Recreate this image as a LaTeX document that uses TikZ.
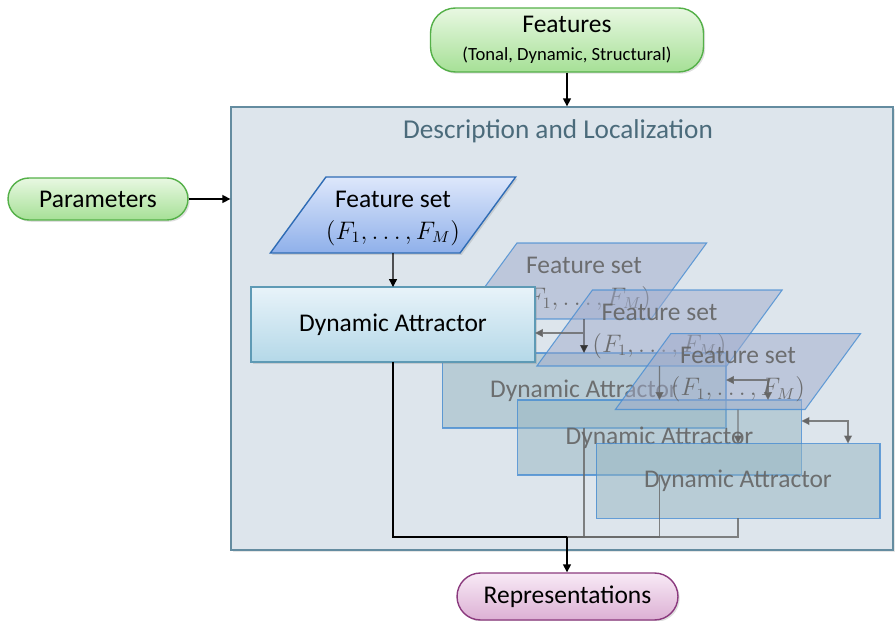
\documentclass[tikz,border=0pt]{standalone}
\usepackage{fontspec}
\setmainfont{Carlito}
\usetikzlibrary{arrows.meta, positioning, shapes.geometric, shadows}

\definecolor{BoxFill}{RGB}{221,229,236}
\definecolor{BoxEdge}{RGB}{100,140,160}
\definecolor{TitleGray}{RGB}{75,107,123}
\definecolor{PillTop}{RGB}{232,248,226}
\definecolor{PillBottom}{RGB}{166,224,150}
\definecolor{PillEdge}{RGB}{84,176,72}
\definecolor{FSTop}{RGB}{221,231,251}
\definecolor{FSBottom}{RGB}{143,176,234}
\definecolor{FSEdge}{RGB}{47,108,181}
\definecolor{DATop}{RGB}{232,243,249}
\definecolor{DABottom}{RGB}{180,216,232}
\definecolor{DAEdge}{RGB}{94,154,181}
\definecolor{ReprTop}{RGB}{248,234,246}
\definecolor{ReprBottom}{RGB}{220,176,212}
\definecolor{ReprEdge}{RGB}{139,58,126}
\definecolor{GhostFS}{RGB}{159,171,204}
\definecolor{GhostDA}{RGB}{149,181,194}
\definecolor{GhostEdge}{RGB}{70,140,210}
\definecolor{GhostText}{RGB}{100,100,100}

\begin{document}
\begin{tikzpicture}[x=0.02cm, y=-0.02cm]
        \tikzstyle{pill} = [rectangle, rounded corners=0.42cm, draw=PillEdge, line width=0.8pt, top color=PillTop, bottom color=PillBottom, font=\fontsize{14.5}{17}\selectfont, drop shadow={opacity=0.25, shadow xshift=1pt, shadow yshift=-1pt}]
        \tikzstyle{featset} = [trapezium, trapezium left angle=40.8, trapezium right angle=139.2, trapezium stretches body, minimum width=4.86cm, minimum height=1.52cm, inner sep=0pt, outer sep=0pt, text depth=0pt, align=center, font=\fontsize{14.5}{18}\selectfont]
        \tikzstyle{attractor} = [rectangle, minimum width=5.68cm, minimum height=1.5cm, outer sep=0pt, font=\fontsize{14.5}{17}\selectfont]
        \tikzstyle{mainfs} = [featset, draw=FSEdge, top color=FSTop, bottom color=FSBottom, line width=0.8pt, drop shadow={opacity=0.25, shadow xshift=1pt, shadow yshift=-1pt}]
        \tikzstyle{mainda} = [attractor, draw=DAEdge, top color=DATop, bottom color=DABottom, line width=0.8pt, drop shadow={opacity=0.25, shadow xshift=1pt, shadow yshift=-1pt}]
        \tikzstyle{ghostfs} = [featset, draw=GhostEdge, fill=GhostFS, fill opacity=0.5, draw opacity=0.8, text=GhostText, text opacity=0.9, line width=0.6pt]
        \tikzstyle{ghostda} = [attractor, draw=GhostEdge, fill=GhostDA, fill opacity=0.5, draw opacity=0.8, text=GhostText, text opacity=0.9, line width=0.6pt]
        \tikzstyle{arrow} = [-{Triangle[length=4.5pt, width=4.5pt]}, line width=0.8pt, black]
        \tikzstyle{ghostline} = [line width=0.6pt, draw=black!60, draw opacity=0.8]
        \tikzstyle{ghostarrow} = [ghostline, -{Triangle[length=4.5pt, width=4.5pt]}]
        \tikzstyle{ghostlink} = [ghostline, {Triangle[length=4.5pt, width=4.5pt]}-{Triangle[length=4.5pt, width=4.5pt]}]
        \newcommand{\fsmath}{{\fontsize{13.5}{18}\selectfont$(F_1,\ldots,F_M)$}}

        \useasboundingbox (0,0) rectangle (895,621);

        % Frame
        \node (frame) [rectangle, draw=BoxEdge, fill=BoxFill, line width=0.8pt, minimum width=13.24cm, minimum height=8.86cm, drop shadow={opacity=0.2, shadow xshift=1pt, shadow yshift=-1pt}] at (562,328.5) {};
        \node (title) [font=\fontsize{15.5}{18}\selectfont, text=TitleGray] at (558,131) {Description and Localization};

        % Inputs and output
        \node (features) [pill, minimum width=5.46cm, minimum height=1.28cm, rounded corners=0.5cm, align=center] at (567,40) {Features\\[-1pt]{\fontsize{10.6}{12}\selectfont(Tonal, Dynamic, Structural)}};
        \node (params) [pill, minimum width=3.6cm, minimum height=0.84cm] at (98,199) {Parameters};
        \node (repr) [pill, draw=ReprEdge, top color=ReprTop, bottom color=ReprBottom, minimum width=4.42cm, minimum height=0.94cm, rounded corners=0.47cm] at (567.5,596.5) {Representations};

        % Copies behind
        \node (da1) [ghostda] at (584,390.5) {Dynamic Attractor};
        \node (fs1) [ghostfs, above=0.68cm of da1] {Feature set\\\fsmath};
        \node (da2) [ghostda] at (659.5,437.5) {Dynamic Attractor};
        \node (fs2) [ghostfs, above=0.68cm of da2] {Feature set\\\fsmath};
        \node (da3) [ghostda] at (738,481) {Dynamic Attractor};
        \node (fs3) [ghostfs, above=0.68cm of da3] {Feature set\\\fsmath};

        \coordinate (merge) at (567,537);
        \coordinate (e1) at (583,333);
        \coordinate (e2) at (768,380);
        \coordinate (e3) at (848,421);

        \draw [ghostarrow, draw=black!80] (fs1) -- (da1);
        \draw [ghostarrow] (fs2) -- (da2);
        \draw [ghostarrow] (fs3) -- (da3);
        \draw [ghostline] (da1.south) |- (merge);
        \draw [ghostline] (da2.south) |- (merge);
        \draw [ghostline] (da3.south) |- (merge);
        \draw [ghostlink] (e2 -| da1.east) -| (e2 |- da2.north);
        \draw [ghostlink] (e3 -| da2.east) -| (e3 |- da3.north);

        % Main pair
        \node (da) [mainda] at (393,324.5) {Dynamic Attractor};
        \node (fs) [mainfs, above=0.68cm of da] {Feature set\\\fsmath};
        \draw [ghostarrow] (e1) -- (e1 -| da.east);

        % Arrows
        \draw [arrow] (features.south) -- (features.south |- frame.north);
        \draw [arrow] (params.east) -- (params.east -| frame.west);
        \draw [arrow] (fs) -- (da);
        \draw [line width=0.8pt] (da.south) |- (merge);
        \draw [arrow] (merge) -- (merge |- repr.north);
    \end{tikzpicture}
\end{document}
